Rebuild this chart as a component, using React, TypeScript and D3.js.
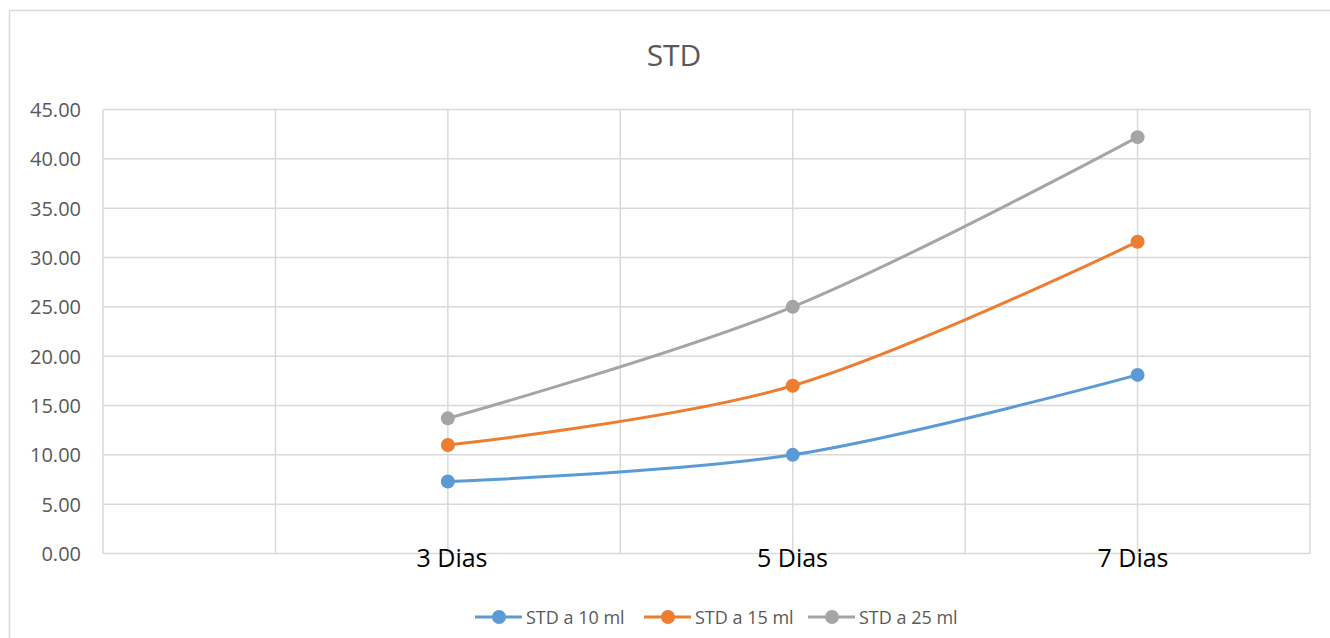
import React from "react";
import * as d3 from "d3";

const categories = ["3 Dias", "5 Dias", "7 Dias"];
const categoryX = [2, 4, 6];
const seriesNames = ["STD a 10 ml", "STD a 15 ml", "STD a 25 ml"];
const seriesColors = ["#5B9BD5", "#ED7D31", "#A5A5A5"];
const std10 = [7.3, 10.0, 18.1];
const std15 = [11.0, 17.0, 31.6];
const std25 = [13.7, 25.0, 42.2];
const yTicks = [0, 5, 10, 15, 20, 25, 30, 35, 40, 45];
const xGrid = [0, 1, 2, 3, 4, 5, 6, 7];

const W = 1330;
const H = 638;
const FONT = "'Open Sans', sans-serif";

export default function App() {
  const x = d3.scaleLinear().domain([0, 7]).range([103, 1310]);
  const y = d3.scaleLinear().domain([0, 45]).range([553.5, 109.5]);
  const labelX = d3.scalePoint<string>().domain(categories).range([452, 1133]);
  const series = [std10, std15, std25];
  const line = d3
    .line<number>()
    .x((_, i) => x(categoryX[i]))
    .y((d) => y(d))
    .curve(d3.curveCatmullRom.alpha(0));

  const legendStart = [475, 644, 808];

  return (
    <svg
      width={W}
      height={H}
      style={{ position: "absolute", left: 0, top: 0, background: "#fff" }}
      fontFamily={FONT}
    >
      <rect x={9.5} y={10.5} width={1400} height={700} fill="#fff" stroke="#d9d9d9" strokeWidth={1.5} />
      <text x={674} y={66} textAnchor="middle" fontSize={30} fill="#595959">
        STD
      </text>
      {yTicks.map((t) => (
        <g key={"y" + t}>
          <line x1={x(0)} x2={x(7)} y1={y(t)} y2={y(t)} stroke="#d9d9d9" strokeWidth={1.5} />
          <text x={81} y={y(t) + 7.5} textAnchor="end" fontSize={20} fill="#595959">
            {t.toFixed(2)}
          </text>
        </g>
      ))}
      {xGrid.map((g) => (
        <line key={"x" + g} x1={x(g)} x2={x(g)} y1={y(45)} y2={y(0)} stroke="#d9d9d9" strokeWidth={1.5} />
      ))}
      {categories.map((c) => (
        <text key={c} x={labelX(c)} y={567} textAnchor="middle" fontSize={25} fill="#000">
          {c}
        </text>
      ))}
      {series.map((s, si) => (
        <g key={"s" + si}>
          <path d={line(s) || ""} fill="none" stroke={seriesColors[si]} strokeWidth={3} strokeLinecap="round" />
          {s.map((v, i) => (
            <circle key={i} cx={x(categoryX[i])} cy={y(v)} r={7} fill={seriesColors[si]} />
          ))}
        </g>
      ))}
      {seriesNames.map((n, i) => (
        <g key={n} transform={`translate(${legendStart[i]},617)`}>
          <line x1={0} x2={47} y1={0} y2={0} stroke={seriesColors[i]} strokeWidth={3} />
          <circle cx={24} cy={0} r={7} fill={seriesColors[i]} />
          <text x={51} y={7} fontSize={18} fill="#595959">
            {n}
          </text>
        </g>
      ))}
    </svg>
  );
}
